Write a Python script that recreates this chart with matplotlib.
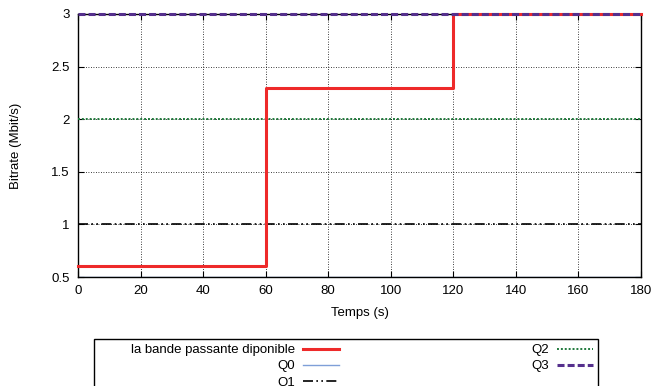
import matplotlib.pyplot as plt
from matplotlib.patches import Rectangle

# bandwidth steps (time in s, bitrate in Mbit/s)
bw_time = [0, 60, 60, 120, 120, 180]
bw_rate = [0.6, 0.6, 2.3, 2.3, 3.0, 3.0]

# quality levels
q_names = ['Q0', 'Q1', 'Q2', 'Q3']
q_rates = [0.5, 1.0, 2.0, 3.0]
t_range = [0, 180]

x_ticks = list(range(0, 181, 20))
y_ticks = [0.5, 1, 1.5, 2, 2.5, 3]
y_labels = ['0.5', '1', '1.5', '2', '2.5', '3']

plt.rcParams['font.family'] = ['Liberation Sans', 'DejaVu Sans']
fig = plt.figure(figsize=(6.56, 3.86), dpi=100)
ax = fig.add_axes([78 / 656, 1 - 277 / 386, (641 - 78) / 656, (277 - 14) / 386])

h_bw, = ax.plot(bw_time, bw_rate, color='#ee2a2a', lw=2.2, zorder=5, clip_on=False)
h_q0, = ax.plot(t_range, [q_rates[0]] * 2, color='#7f9fd8', lw=1.0, zorder=1)
h_q1, = ax.plot(t_range, [q_rates[1]] * 2, color='black', lw=1.2,
                linestyle=(0, (6, 2, 1, 2, 1, 2)), zorder=4)
h_q2, = ax.plot(t_range, [q_rates[2]] * 2, color='#207a3c', lw=1.4,
                linestyle=(0, (1, 1)), zorder=4)
h_q3, = ax.plot(t_range, [q_rates[3]] * 2, color='#55308d', lw=2.2,
                linestyle=(0, (2.3, 1.0)), zorder=6, clip_on=False)

ax.set_xlim(0, 180)
ax.set_ylim(0.5, 3)
ax.set_xticks(x_ticks)
ax.set_yticks(y_ticks)
ax.set_yticklabels(y_labels)
ax.tick_params(direction='in', top=True, right=True, labelsize=9.5, length=4, pad=6)
ax.grid(True, color='black', linestyle=(0, (1, 2)), linewidth=0.6)
for s in ax.spines.values():
    s.set_linewidth(1.0)

ax.set_xlabel('Temps (s)', fontsize=9.5, labelpad=7)
ax.set_ylabel('Bitrate (Mbit/s)', fontsize=9.5, labelpad=21)

# legend frame like gnuplot's key box below the plot
fig.patches.append(Rectangle((94 / 656, -0.05), (598 - 94) / 656, 1 - 339 / 386 + 0.05,
                             transform=fig.transFigure, fill=False,
                             edgecolor='black', lw=1.0))

handles = [h_bw, h_q0, h_q1, h_q2, h_q3]
labels = ['la bande passante diponible'] + q_names
fig.legend(handles, labels, ncol=2, mode='expand', markerfirst=False,
           frameon=False, fontsize=9.5, handlelength=2.7, handletextpad=0.6,
           labelspacing=0.3, borderpad=0, borderaxespad=0,
           bbox_to_anchor=(131 / 656, 1 - 393 / 386, (593 - 131) / 656, (393 - 344) / 386),
           loc='upper left')

fig.savefig('out.png', dpi=100)
